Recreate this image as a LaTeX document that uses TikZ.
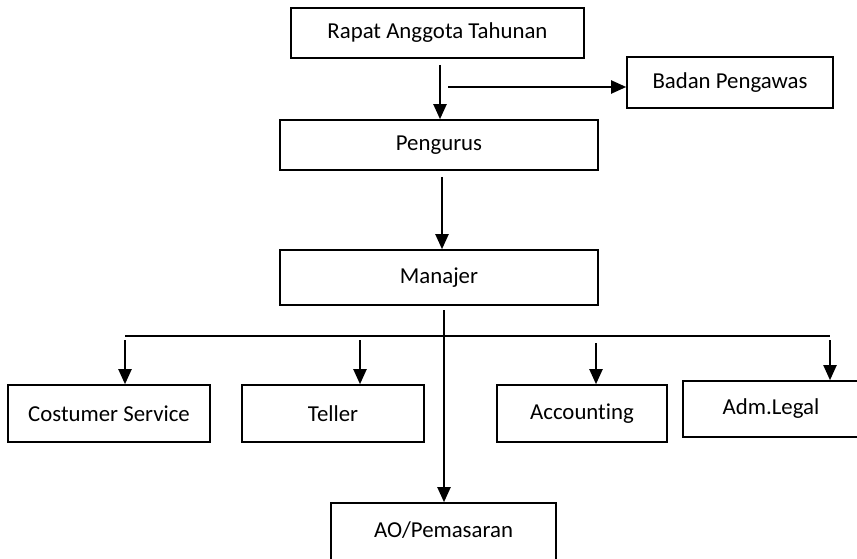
\documentclass[tikz,border=0pt]{standalone}
\usepackage{fontspec}
\setmainfont{Carlito}[Ligatures=NoCommon]
\usetikzlibrary{arrows.meta}
\begin{document}
\begin{tikzpicture}[x=1pt,y=-1pt,
  box/.style={draw=black,line width=1.6pt,inner sep=0pt,font=\fontsize{22.8}{27}\selectfont},
  arr/.style={line width=2pt,-{Triangle[length=15pt,width=13pt]}},
  bus/.style={line width=1.6pt}]
\useasboundingbox (0,0) rectangle (857,559);
\clip (0,0) rectangle (857,559);
% nodes
\node[box,minimum width=293pt,minimum height=50pt] (rat) at (437.5,33) {Rapat Anggota Tahunan};
\node[box,minimum width=206pt,minimum height=51pt] (bp) at (730,82.5) {Badan Pengawas};
\node[box,minimum width=318pt,minimum height=50pt] (pg) at (439,145) {Pengurus};
\node[box,minimum width=318pt,minimum height=55pt] (mj) at (439,277.5) {Manajer};
\node[box,minimum width=202pt,minimum height=57pt] (cs) at (109,413.5) {Costumer Service};
\node[box,minimum width=182pt,minimum height=57pt] (tl) at (333,413.5) {Teller};
\node[box,minimum width=170pt,minimum height=57pt] (ac) at (582,413.5) {Accounting};
\node[box,minimum width=176pt,minimum height=56pt] (al) at (771,409) {\raisebox{5pt}{Adm.Legal}};
\node[box,minimum width=225pt,minimum height=70pt] (ao) at (443.5,538) {\raisebox{16pt}{AO/Pemasaran}};
% coordinates
\coordinate (rs) at (440,65);
\coordinate (bs) at (448,87);
\coordinate (ps) at (442,177);
\coordinate (ms) at (444,310);
\coordinate (b1) at (125,336);
\coordinate (b4) at (830,336);
\coordinate (c1) at (125,340);
\coordinate (c2) at (360,340);
\coordinate (c3) at (596,343);
\coordinate (c4) at (830,340);
% connectors
\draw[arr] (rs) -- (rs |- pg.north);
\draw[arr] (bs) -- (bs -| bp.west);
\draw[arr] (ps) -- (ps |- mj.north);
\draw[arr] (ms) -- (ms |- ao.north);
\draw[bus] (b1) -- (b4);
\draw[arr] (c1) -- (c1 |- cs.north);
\draw[arr] (c2) -- (c2 |- tl.north);
\draw[arr] (c3) -- (c3 |- ac.north);
\draw[arr] (c4) -- (c4 |- al.north);
\end{tikzpicture}
\end{document}
